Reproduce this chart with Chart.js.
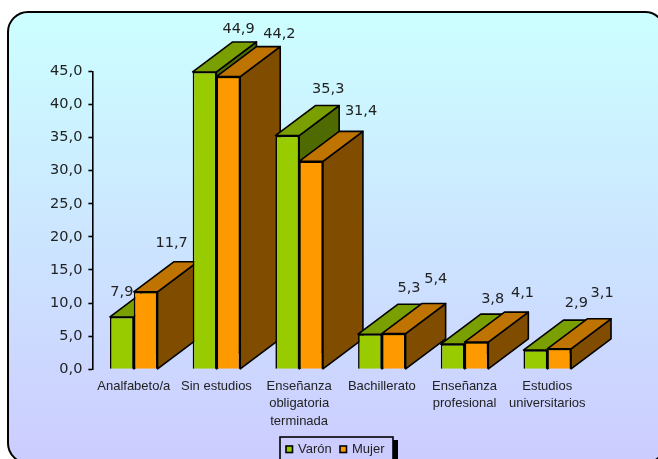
<!DOCTYPE html>
<html>
<head>
<meta charset="utf-8">
<style>
  html, body { margin: 0; padding: 0; background: #fff; overflow: hidden; }
  canvas { display: block; }
</style>
<script src="https://cdn.jsdelivr.net/npm/chart.js@4"></script>
</head>
<body>
<canvas id="grafico" width="658" height="459"></canvas>
<script>
const categorias = ['Analfabeto/a', 'Sin estudios', ['Enseñanza', 'obligatoria', 'terminada'], 'Bachillerato', ['Enseñanza', 'profesional'], ['Estudios', 'universitarios']];
const varon = [7.9, 44.9, 35.3, 5.3, 3.8, 2.9];
const mujer = [11.7, 44.2, 31.4, 5.4, 4.1, 3.1];

// the labels were moved by hand in the original, so each one has its own offset
const offsetX = [[0, 34, 41, 39, 40, 41], [26, 51, 50, 42, 46, 43]];
const offsetY = [[-25, -43, -46, -46, -45, -47], [-49, -42, -50, -54, -49, -56]];

const colores = [
    { frente: '#99CC00', arriba: '#7A9F00', lado: '#4F6A00' },
    { frente: '#FF9900', arriba: '#BF7300', lado: '#804D00' }
];
const fondo3d = { dx: 40, dy: -30 };
const grosor = 1.6;

function cara(ctx, puntos, color) {
    ctx.beginPath();
    puntos.forEach((p, i) => i ? ctx.lineTo(p[0], p[1]) : ctx.moveTo(p[0], p[1]));
    ctx.closePath();
    ctx.fillStyle = color;
    ctx.fill();
    ctx.stroke();
}

const fondoPlugin = {
    id: 'fondo',
    beforeDraw(chart) {
        const ctx = chart.ctx;
        const grad = ctx.createLinearGradient(0, 12, 0, 463);
        grad.addColorStop(0, '#CCFFFF');
        grad.addColorStop(1, '#CCCCFF');
        ctx.save();
        ctx.beginPath();
        ctx.roundRect(8, 12, 657, 451, 20);
        ctx.fillStyle = grad;
        ctx.fill();
        ctx.lineWidth = 2;
        ctx.strokeStyle = '#000';
        ctx.stroke();
        ctx.restore();
    }
};

// sides and tops of the bars, behind the fronts that Chart.js draws
const barras3dPlugin = {
    id: 'barras3d',
    beforeDatasetsDraw(chart) {
        const ctx = chart.ctx;
        const { dx, dy } = fondo3d;
        ctx.save();
        ctx.lineWidth = grosor;
        ctx.strokeStyle = '#000';
        ctx.lineJoin = 'round';
        categorias.forEach((c, i) => {
            [0, 1].forEach(d => {
                const b = chart.getDatasetMeta(d).data[i];
                const izq = b.x - b.width / 2, der = b.x + b.width / 2;
                cara(ctx, [[der, b.y], [der + dx, b.y + dy], [der + dx, b.base + dy], [der, b.base]], colores[d].lado);
                cara(ctx, [[izq, b.y], [izq + dx, b.y + dy], [der + dx, b.y + dy], [der, b.y]], colores[d].arriba);
            });
        });
        ctx.restore();
    },
    afterDatasetsDraw(chart) {
        const ctx = chart.ctx;
        ctx.save();
        ctx.font = '14.5px "DejaVu Sans"';
        ctx.fillStyle = '#222';
        ctx.textAlign = 'center';
        ctx.textBaseline = 'middle';
        chart.data.datasets.forEach((ds, d) => {
            chart.getDatasetMeta(d).data.forEach((b, i) => {
                ctx.fillText(ds.data[i].toFixed(1).replace('.', ','), b.x + offsetX[d][i], b.y + offsetY[d][i]);
            });
        });
        ctx.restore();
    }
};

const leyendaPlugin = {
    id: 'leyenda',
    afterDraw(chart) {
        const ctx = chart.ctx;
        ctx.save();
        ctx.fillStyle = '#000';
        ctx.fillRect(393, 440, 5, 19);
        ctx.fillStyle = '#CCCCFF';
        ctx.strokeStyle = '#000';
        ctx.lineWidth = grosor;
        ctx.fillRect(280, 437, 113, 24);
        ctx.strokeRect(280, 437, 113, 24);
        ctx.font = '13px "Liberation Sans"';
        ctx.textBaseline = 'middle';
        [286, 340].forEach((x, d) => {
            ctx.fillStyle = colores[d].frente;
            ctx.fillRect(x, 446, 6.5, 6.5);
            ctx.strokeRect(x, 446, 6.5, 6.5);
            ctx.fillStyle = '#222';
            ctx.fillText(chart.data.datasets[d].label, x + 12, 449.5);
        });
        ctx.restore();
    }
};

new Chart(document.getElementById('grafico'), {
    type: 'bar',
    plugins: [fondoPlugin, barras3dPlugin, leyendaPlugin],
    data: {
        labels: categorias,
        datasets: [
            { label: 'Varón', data: varon, backgroundColor: colores[0].frente, borderColor: '#000', borderWidth: grosor, barPercentage: 1, categoryPercentage: 0.575 },
            { label: 'Mujer', data: mujer, backgroundColor: colores[1].frente, borderColor: '#000', borderWidth: grosor, barPercentage: 1, categoryPercentage: 0.575 }
        ]
    },
    options: {
        responsive: false,
        animation: false,
        devicePixelRatio: 1,
        layout: { autoPadding: false, padding: { left: 0, right: 69.4, top: 71.3, bottom: 0 } },
        plugins: { legend: { display: false }, tooltip: { enabled: false } },
        scales: {
            x: {
                afterFit: s => { s.height = 89.7; },
                grid: { display: false },
                border: { display: false },
                ticks: {
                    color: '#222',
                    font: { family: 'Liberation Sans', size: 13, lineHeight: 1.35 },
                    padding: 0,
                    maxRotation: 0,
                    autoSkip: false
                }
            },
            y: {
                min: 0,
                max: 45,
                afterFit: s => { s.width = 92.4; },
                grid: { drawOnChartArea: false, color: '#000', tickLength: 4, tickWidth: grosor },
                border: { color: '#000', width: grosor },
                ticks: {
                    stepSize: 5,
                    color: '#222',
                    font: { family: 'DejaVu Sans', size: 14.5 },
                    padding: 6,
                    callback: v => v.toFixed(1).replace('.', ',')
                }
            }
        }
    }
});
</script>
</body>
</html>
